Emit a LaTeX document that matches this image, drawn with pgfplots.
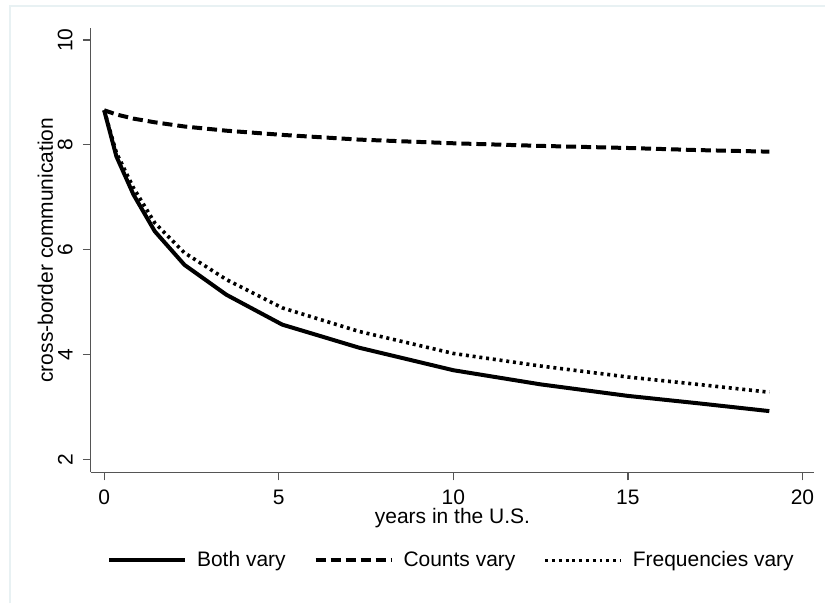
\documentclass[border=0pt]{standalone}
\usepackage{fontspec}
\setmainfont{Liberation Sans}
\usepackage{pgfplots}
\pgfplotsset{compat=1.18}
\definecolor{axgray}{HTML}{555555}
\definecolor{framec}{HTML}{E8F1F3}
\begin{document}
\fontsize{10.5bp}{12.6bp}\selectfont
\begin{tikzpicture}
\path[fill=white] (0bp,0bp) rectangle (413bp,302bp);
\draw[framec, line width=1bp] (5bp,0bp) -- (5bp,299bp) -- (413bp,299bp);
\begin{axis}[
  at={(45.5bp,65.5bp)}, anchor=south west,
  scale only axis, width=362bp, height=222.5bp,
  xmin=-0.38, xmax=20.33, ymin=1.75, ymax=10.23,
  axis x line*=bottom, axis y line*=left,
  axis line style={axgray, line width=0.6bp, -},
  every tick/.style={axgray, line width=0.6bp},
  major tick length=4bp, tick align=outside,
  xtick={0,5,10,15,20}, ytick={2,4,6,8,10},
  minor tick num=0,
  /pgf/number format/assume math mode=true,
  xticklabel style={anchor=north, inner sep=0pt, yshift=-4.5bp},
  yticklabel style={xshift=-5bp, rotate=90, anchor=south, inner sep=0pt},
  xlabel={years in the U.S.},
  ylabel={cross-border communication},
  xlabel style={at={([yshift=-23bp]axis description cs:0.5,0)}, anchor=center, inner sep=0pt},
  ylabel style={at={([xshift=-22.75bp]axis description cs:0,0.5)}, anchor=center, inner sep=0pt},
  legend columns=3,
  legend cell align=left,
  legend style={draw=none, fill=none, at={(0.5,0)}, anchor=center, yshift=-44bp,
    column sep=0pt,
    /tikz/every odd column/.append style={column sep=3bp},
    /tikz/every even column/.append style={column sep=12bp}},
  legend image code/.code={\draw[#1] (0bp,0bp) -- (38bp,0bp);},
]
\addplot[black, line width=2bp, line join=round] coordinates {
(0,8.66) (0.35,7.78) (0.84,7.05) (1.45,6.35) (2.3,5.71) (3.5,5.14) (5.1,4.57)
(7.3,4.13) (10,3.70) (12.5,3.43) (15,3.21) (17,3.07) (19.05,2.92)};
\addlegendentry{Both vary}
\addplot[black, line width=2bp, dash pattern=on 5bp off 2.5bp] coordinates {
(0,8.66) (0.35,8.58) (0.84,8.50) (1.45,8.43) (2.3,8.35) (3.5,8.27) (5.1,8.19)
(7.3,8.10) (10,8.03) (12.5,7.98) (15,7.94) (17,7.90) (19.05,7.87)};
\addlegendentry{Counts vary}
\addplot[black, line width=1.8bp, dash pattern=on 1.5bp off 1.9bp] coordinates {
(0,8.66) (0.35,7.85) (0.84,7.18) (1.45,6.51) (2.3,5.94) (3.5,5.43) (5.1,4.89)
(7.3,4.44) (10,4.02) (12.5,3.78) (15,3.57) (17,3.43) (19.05,3.28)};
\addlegendentry{Frequencies vary}
\end{axis}
\end{tikzpicture}
\end{document}
